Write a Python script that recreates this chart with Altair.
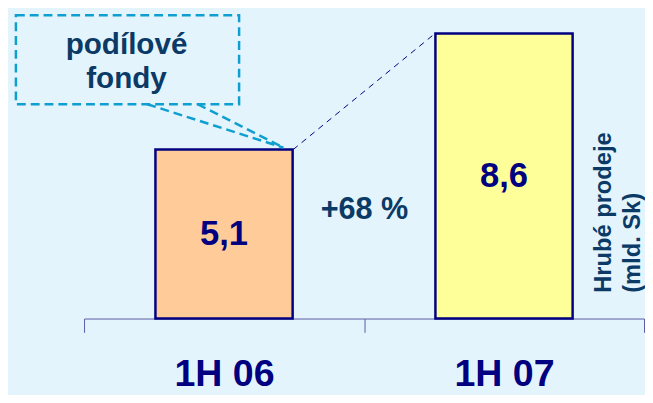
import altair as alt
import pandas as pd

# ---- data ----
categories = ["1H 06", "1H 07"]
values = [5.1, 8.6]
value_labels = ["5,1", "8,6"]
fill_colors = ["#FFCC99", "#FFFF99"]
change_label = ["+68 %"]
callout_lines = ["podílové", "fondy"]
ytitle_lines = ["Hrubé prodeje", "(mld. Sk)"]

FONT = "Liberation Sans"
NAVY = "#000080"
DARK = "#0B3A66"
CYAN = "#0E9FD0"

df = pd.DataFrame({"period": categories, "value": values, "label": value_labels})
df_conn = pd.DataFrame({"p1": [categories[0]], "v1": [values[0]],
                        "p2": [categories[1]], "v2": [values[1]]})
one = pd.DataFrame({"a": [0]})

xscale = alt.Scale(domain=categories, paddingInner=0, paddingOuter=0)
yscale = alt.Scale(domain=[0, 9.3], nice=False, zero=True)

bars = alt.Chart(df).mark_bar(
    stroke=NAVY, strokeWidth=2.5, width=alt.RelativeBandSize(0.49)
).encode(
    x=alt.X("period:N", scale=xscale,
            axis=alt.Axis(title=None, domainColor="#5B5BA6", domainWidth=1,
                          tickColor="#5B5BA6", tickWidth=1, tickSize=14,
                          tickBand="extent", labelFont=FONT, labelFontSize=38,
                          labelFontWeight="bold", labelColor=NAVY,
                          labelBaseline="alphabetic", labelPadding=54,
                          labelAngle=0)),
    y=alt.Y("value:Q", scale=yscale, axis=None),
    fill=alt.Fill("period:N", scale=alt.Scale(domain=categories, range=fill_colors),
                  legend=None),
)

bar_text = alt.Chart(df).transform_calculate(mid="datum.value / 2").mark_text(
    font=FONT, fontSize=35, fontWeight="bold", color=NAVY, baseline="middle"
).encode(
    x=alt.X("period:N", scale=xscale),
    y=alt.Y("mid:Q", scale=yscale),
    text="label:N",
)

connector = alt.Chart(df_conn).mark_rule(
    color=NAVY, strokeWidth=1, strokeDash=[6, 5], xOffset=70, x2Offset=-70
).encode(
    x=alt.X("p1:N", scale=xscale),
    x2="p2:N",
    y=alt.Y("v1:Q", scale=yscale),
    y2="v2:Q",
)

change = alt.Chart(pd.DataFrame({"t": change_label})).mark_text(
    font=FONT, fontSize=31, fontWeight="bold", color=DARK, baseline="middle"
).encode(x=alt.value(284), y=alt.value(202), text="t:N")

box = alt.Chart(one).mark_rect(fill="transparent", stroke=CYAN, strokeWidth=2.5,
                               strokeDash=[9, 5]).encode(
    x=alt.value(-69), x2=alt.value(157), y=alt.value(5), y2=alt.value(95))

line1 = alt.Chart(one).mark_rule(color=CYAN, strokeWidth=2.5, strokeDash=[9, 5]).encode(
    x=alt.value(64), y=alt.value(95), x2=alt.value(202), y2=alt.value(139))
line2 = alt.Chart(one).mark_rule(color=CYAN, strokeWidth=2.5, strokeDash=[9, 5]).encode(
    x=alt.value(115), y=alt.value(95), x2=alt.value(202), y2=alt.value(139))

ct1 = alt.Chart(pd.DataFrame({"t": [callout_lines[0]]})).mark_text(
    font=FONT, fontSize=30, fontWeight="bold", color=DARK, baseline="middle"
).encode(x=alt.value(43), y=alt.value(35), text="t:N")
ct2 = alt.Chart(pd.DataFrame({"t": [callout_lines[1]]})).mark_text(
    font=FONT, fontSize=30, fontWeight="bold", color=DARK, baseline="middle"
).encode(x=alt.value(43), y=alt.value(70), text="t:N")

yt1 = alt.Chart(pd.DataFrame({"t": [ytitle_lines[0]]})).mark_text(
    font=FONT, fontSize=24, fontWeight="bold", color=DARK, baseline="middle",
    align="left", angle=270
).encode(x=alt.value(527), y=alt.value(286), text="t:N")
yt2 = alt.Chart(pd.DataFrame({"t": [ytitle_lines[1]]})).mark_text(
    font=FONT, fontSize=24, fontWeight="bold", color=DARK, baseline="middle",
    align="left", angle=270
).encode(x=alt.value(556), y=alt.value(286), text="t:N")

chart = alt.layer(
    bars, box, line1, line2, ct1, ct2, connector, bar_text, change, yt1, yt2
).properties(
    width=567, height=312,
    autosize=alt.AutoSizeParams(type="none"),
    padding={"left": 77, "top": 0, "right": 1, "bottom": 75},
    background="#E4F4FC",
).configure_view(stroke=None)

chart.save("out.html", embed_options={"renderer": "svg", "actions": False})
